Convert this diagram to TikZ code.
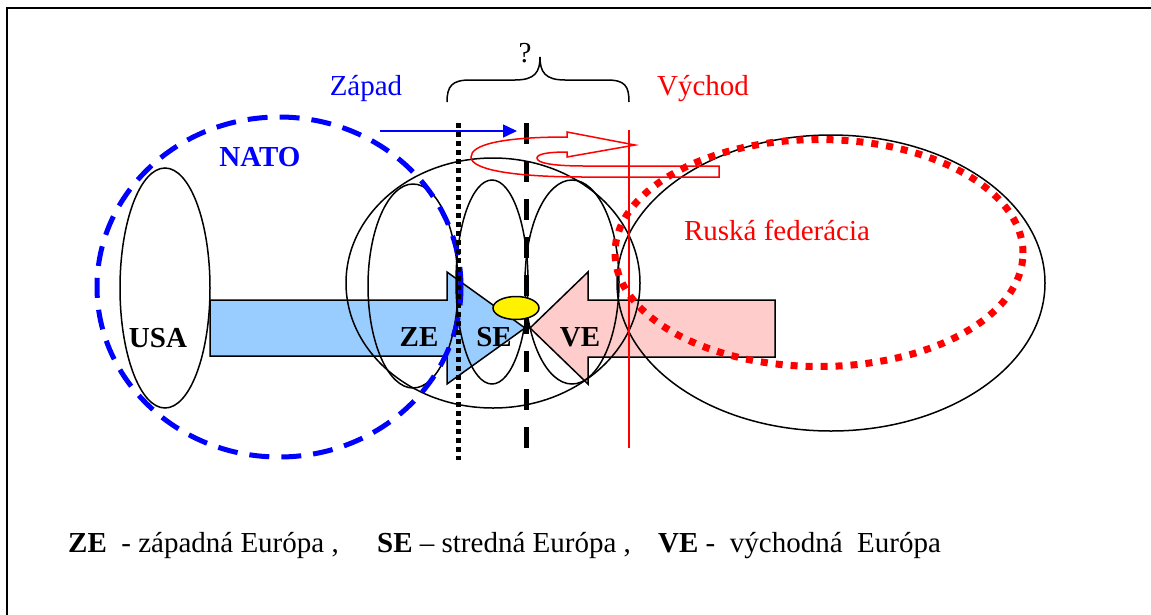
\documentclass[tikz,border=0pt]{standalone}
\usepackage{fontspec}
\setmainfont{Liberation Serif}
\usetikzlibrary{shapes.geometric,arrows.meta}
\definecolor{fillblue}{RGB}{153,204,255}
\definecolor{fillpink}{RGB}{255,204,204}
\tikzset{
  outl/.style={draw=black,line width=1.5pt},
  oval/.style={ellipse,draw=black,line width=1.5pt,inner sep=0pt,outer sep=0pt},
  lbl/.style={font=\fontsize{29}{34}\selectfont,inner sep=0pt,anchor=base},
  blbl/.style={lbl,font=\fontsize{29}{34}\selectfont\bfseries},
}
\begin{document}
\begin{tikzpicture}[x=1pt,y=-1pt]
\useasboundingbox (0,0) rectangle (1151,614);
% frame
\draw[line width=2pt] (7,630) -- (7,8) -- (1170,8);
% big arrows
\draw[outl,fill=fillblue] (210,300) -- (447,300) -- (447,272) -- (525,328) -- (447,384) -- (447,356) -- (210,356) -- cycle;
\draw[outl,fill=fillpink] (775,300) -- (588,300) -- (588,272) -- (530,328) -- (588,384) -- (588,357) -- (775,357) -- cycle;
% ellipses
\node[oval,minimum width=90,minimum height=240] (usa) at (165,288) {};
\node[oval,minimum width=294,minimum height=250] (eu) at (493,283) {};
\node[oval,minimum width=90,minimum height=204] (ze) at (413,286) {};
\node[oval,minimum width=72,minimum height=204] (se) at (492,282) {};
\node[oval,minimum width=94,minimum height=204] (ve) at (572,282) {};
\node[oval,minimum width=428,minimum height=296] (rf) at (831,283) {};
\node[ellipse,draw=blue,line width=5pt,dash pattern=on 20pt off 12pt,inner sep=0pt,minimum width=364,minimum height=340] (nato) at (279,287) {};
\node[ellipse,draw=red,line width=7pt,dash pattern=on 7pt off 8pt,inner sep=0pt,minimum width=408,minimum height=227] (rfdot) at (819,253) {};
% vertical lines
\coordinate (dotT) at (458,123); \coordinate (dotB) at (458,460);
\coordinate (dashT) at (526,123); \coordinate (dashB) at (526,462);
\coordinate (redT) at (629,130); \coordinate (redB) at (629,448);
\draw[line width=5pt,dash pattern=on 5pt off 4pt] (dotT) -- (dotB);
\draw[line width=5pt,dash pattern=on 21pt off 17pt] (dashT) -- (dashB);
\draw[red,line width=1.5pt] (redT) -- (redB);
% brace
\draw[line width=1.5pt] (447,102) .. controls (447,86) and (452,80) .. (470,80) -- (515,80) .. controls (535,80) and (540,72) .. (540,57) .. controls (540,72) and (545,80) .. (565,80) -- (607,80) .. controls (625,80) and (629,86) .. (629,102);
% blue thin arrow
\coordinate (bS) at (380,131); \coordinate (bE) at (517,131);
\draw[blue,line width=1.5pt,-{Triangle[length=14pt,width=13pt]}] (bS) -- (bE);
% red loop arrow
\draw[red,line width=1.5pt,line join=miter] (567,137) .. controls (500,137) and (471,145) .. (471,157) .. controls (471,170) and (515,177) .. (585,177) -- (719,177) -- (719,166) -- (585,166) .. controls (552,166) and (537,163) .. (537,158) .. controls (537,154) and (548,152) .. (567,152) -- (567,157) -- (635,145) -- (567,132) -- cycle;
% yellow
\node[ellipse,draw=black,line width=1.5pt,fill=yellow,inner sep=0pt,minimum width=46,minimum height=23] (core) at (516,308) {};
% labels
\node[blbl] (tusa) at (158,347) {USA};
\node[blbl] (tze) at (419,346) {ZE};
\node[blbl] (tse) at (494,346) {SE};
\node[blbl] (tve) at (580,346) {VE};
\node[blbl,text=blue] (tnato) at (260,166) {NATO};
\node[lbl,text=blue] (tzap) at (366,95) {Západ};
\node[lbl,text=red] (tvych) at (703,95) {Východ};
\node[lbl] (tq) at (525,62) {?};
\node[lbl,text=red] (trf) at (777,240) {Ruská federácia};
\node[lbl,anchor=base west] (leg1) at (68,552) {\textbf{ZE}\ \ - západná Európa ,};
\node[lbl,anchor=base west] (leg2) at (377,552) {\textbf{SE} – stredná Európa ,};
\node[lbl,anchor=base west] (leg3) at (658,552) {\textbf{VE} -\ \ východná\ \ Európa};
\end{tikzpicture}
\end{document}
